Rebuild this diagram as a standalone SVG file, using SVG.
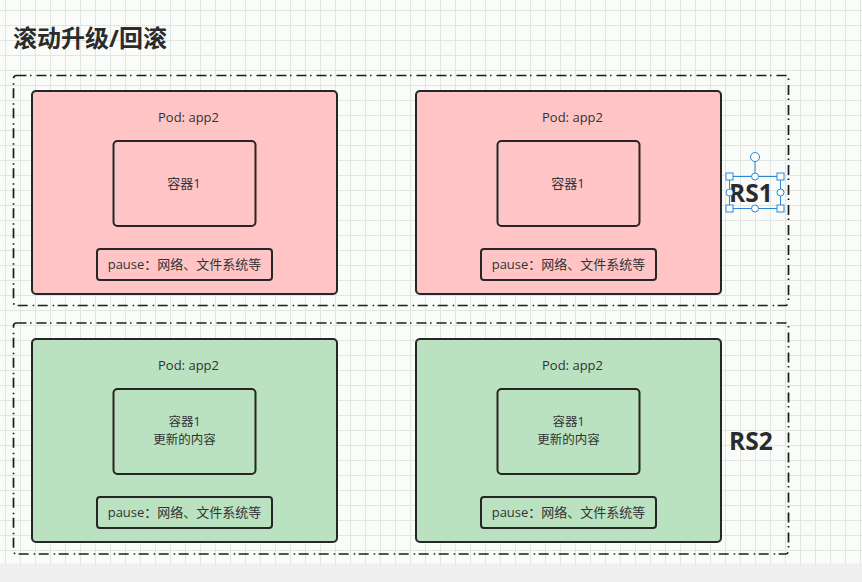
<svg xmlns="http://www.w3.org/2000/svg" width="862" height="582" viewBox="0 0 862 582">
  <defs>
    <pattern id="grid" patternUnits="userSpaceOnUse" x="5" y="10" width="15" height="15">
      <rect width="15" height="15" fill="#f9fcf9"/>
      <path d="M0.5 0 V15 M0 0.5 H15" stroke="#e2e6e2" stroke-width="1" fill="none"/>
    </pattern>
    <style>
      .rs { fill: none; stroke: #1c1c1c; stroke-width: 1.7; stroke-dasharray: 10 3.5 1.5 5; }
      .pod { stroke: #262626; stroke-width: 2; }
      .red { fill: #ffc5c6; }
      .green { fill: #bae1c0; }
      .box { fill: none; stroke: #262626; stroke-width: 2; }
      .t { font-family: "Open Sans", "Noto Sans CJK SC", sans-serif; font-size: 13px; fill: #333333; text-anchor: middle; }
      .t2 { font-size: 12.5px; }
      .big { font-family: "Open Sans", "Noto Sans CJK SC", sans-serif; font-weight: bold; fill: #2b2b2b; }
      .sel { fill: none; stroke: #2f86d6; stroke-width: 1; }
      .h { fill: #ffffff; stroke: #2f86d6; stroke-width: 1; }
    </style>
  </defs>
  <rect x="0" y="0" width="862" height="582" fill="url(#grid)"/>
  <rect x="0" y="563.5" width="862" height="18.5" fill="#eeefee"/>

  <text class="big" x="13" y="47" font-size="24">滚动升级/回滚</text>

  <g id="rs1">
    <rect class="rs" x="13.5" y="75.5" width="775" height="230" rx="3"/>
    <text class="big" x="729" y="202" font-size="24.5">RS1</text>
  </g>
  <g id="rs2">
    <rect class="rs" x="13.5" y="323" width="775" height="231" rx="3"/>
    <text class="big" x="729" y="450" font-size="24.5">RS2</text>
  </g>

  <g id="pod-rs1-left">
    <rect class="pod red" x="32" y="91" width="305" height="203" rx="4"/>
    <text class="t" x="188.5" y="122">Pod: app2</text>
    <rect class="box" x="113.5" y="141" width="142" height="85" rx="4"/>
    <text class="t" x="184" y="188">容器1</text>
    <rect class="box" x="97" y="249" width="175" height="31" rx="3"/>
    <text class="t" x="184.5" y="269">pause：网络、文件系统等</text>
  </g>
  <g id="pod-rs1-right">
    <rect class="pod red" x="416" y="91" width="305" height="203" rx="4"/>
    <text class="t" x="572.5" y="122">Pod: app2</text>
    <rect class="box" x="497.5" y="141" width="142" height="85" rx="4"/>
    <text class="t" x="568" y="188">容器1</text>
    <rect class="box" x="481" y="249" width="175" height="31" rx="3"/>
    <text class="t" x="568.5" y="269">pause：网络、文件系统等</text>
  </g>
  <g id="pod-rs2-left">
    <rect class="pod green" x="32" y="339" width="305" height="203" rx="4"/>
    <text class="t" x="188.5" y="370">Pod: app2</text>
    <rect class="box" x="113.5" y="389" width="142" height="85" rx="4"/>
    <text class="t t2" x="184.5" y="425.5">容器1</text>
    <text class="t t2" x="184.5" y="443.5">更新的内容</text>
    <rect class="box" x="97" y="497" width="175" height="31" rx="3"/>
    <text class="t" x="184.5" y="517">pause：网络、文件系统等</text>
  </g>
  <g id="pod-rs2-right">
    <rect class="pod green" x="416" y="339" width="305" height="203" rx="4"/>
    <text class="t" x="572.5" y="370">Pod: app2</text>
    <rect class="box" x="497.5" y="389" width="142" height="85" rx="4"/>
    <text class="t t2" x="568.5" y="425.5">容器1</text>
    <text class="t t2" x="568.5" y="443.5">更新的内容</text>
    <rect class="box" x="481" y="497" width="175" height="31" rx="3"/>
    <text class="t" x="568.5" y="517">pause：网络、文件系统等</text>
  </g>

  <g id="selection">
    <rect class="sel" x="729.5" y="176.5" width="51" height="32"/>
    <line class="sel" x1="755" y1="161" x2="755" y2="176.5"/>
    <circle class="h" cx="755" cy="157" r="4.5"/>
    <rect class="h" x="726" y="173" width="7" height="7"/>
    <rect class="h" x="777" y="173" width="7" height="7"/>
    <rect class="h" x="726" y="205" width="7" height="7"/>
    <rect class="h" x="777" y="205" width="7" height="7"/>
    <circle class="h" cx="755" cy="176.5" r="3.5"/>
    <circle class="h" cx="755" cy="208.5" r="3.5"/>
    <circle class="h" cx="729.5" cy="192.5" r="3.5"/>
    <circle class="h" cx="780.5" cy="192.5" r="3.5"/>
  </g>

  <g id="connectors"></g>
</svg>
